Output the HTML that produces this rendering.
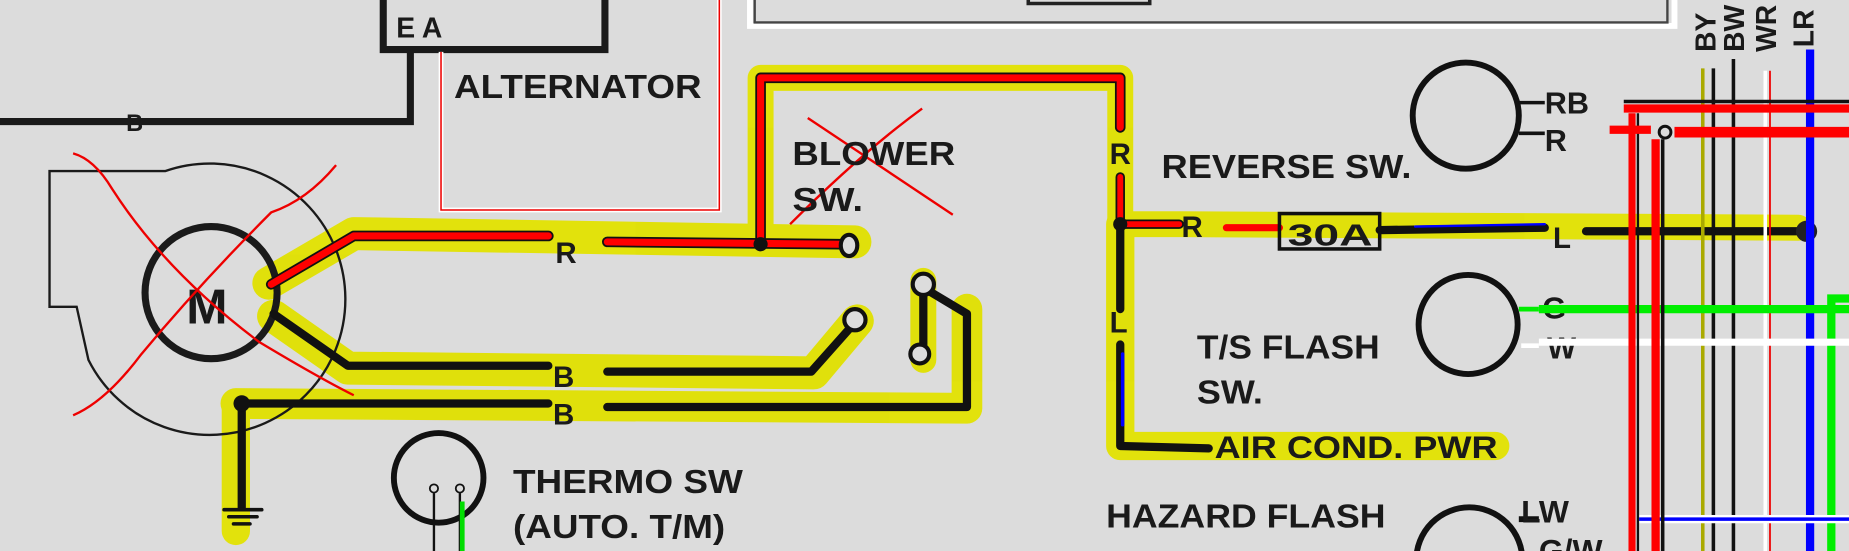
<!DOCTYPE html>
<html><head><meta charset="utf-8"><style>
html,body{margin:0;padding:0;background:#dcdcdc;width:1849px;height:551px;overflow:hidden;}
svg{display:block;}
text{font-family:"Liberation Sans",Arial,sans-serif;font-weight:bold;fill:#1a1a1a;}
</style></head><body>
<svg width="1849" height="551" viewBox="0 0 1568 467" preserveAspectRatio="none" xmlns="http://www.w3.org/2000/svg">
<rect width="1568" height="467" fill="#dcdcdc"/>
<!-- top box -->
<path d="M636 0 V22 H1420 V0" fill="none" stroke="#fff" stroke-width="5"/>
<path d="M640 0 V19 H1414 V0" fill="none" stroke="#444" stroke-width="2"/>
<path d="M872 0 V3 H975 V0" fill="none" stroke="#222" stroke-width="3"/>
<!-- yellow highlights -->
<g fill="none" stroke="#e1e100" stroke-linecap="round" stroke-linejoin="round" opacity="0.95">
<path d="M228 240 L300 198 L725 205" stroke-width="28"/>
<path d="M232 268 L295 312 L690 316 L727 272" stroke-width="28"/>
<path d="M200 342 L820 346 L820 262" stroke-width="26"/>
<path d="M783 238 L783 305" stroke-width="22"/>
<path d="M200 342 L200 450" stroke-width="24"/>
<path d="M645 205 L645 66 L950 66 L950 190 L1000 190 L1525 193" stroke-width="22"/>
<path d="M950 190 L950 378 L1268 378" stroke-width="24"/>
</g>
<!-- alternator -->
<path d="M325 0 V42 H513 V0" fill="none" stroke="#1a1a1a" stroke-width="6"/>
<text x="336" y="32" font-size="24" font-weight="normal">E A</text>
<path d="M348 42 V103 H0" fill="none" stroke="#1a1a1a" stroke-width="6"/>
<text x="107" y="111" font-size="20">B</text>
<path d="M374 44 V178 H610 V0" fill="none" stroke="#fff" stroke-width="4"/>
<path d="M374 44 V178 H610 V0" fill="none" stroke="#e00" stroke-width="1.3"/>
<text x="385" y="83" font-size="28" textLength="210" lengthAdjust="spacingAndGlyphs">ALTERNATOR</text>
<!-- blower housing -->
<path d="M42 225 L42 145 L140 145 A115 115 0 1 1 75 305 L65 260 L42 260 Z" fill="none" stroke="#1a1a1a" stroke-width="2"/>
<circle cx="179" cy="248" r="56" fill="none" stroke="#1a1a1a" stroke-width="6"/>
<text x="158" y="274" font-size="42" font-weight="normal">M</text>
<!-- wires left -->
<g fill="none" stroke-linecap="round" stroke-linejoin="round">
<path d="M230 241 L300 200 L465 200" stroke="#111" stroke-width="9"/>
<path d="M230 241 L300 200 L465 200" stroke="#f00" stroke-width="6"/>
<path d="M515 205 L712 207" stroke="#111" stroke-width="9"/>
<path d="M515 205 L712 207" stroke="#f00" stroke-width="6"/>
<path d="M232 266 L295 310 L465 310" stroke="#111" stroke-width="7"/>
<path d="M515 315 L688 315 L720 279" stroke="#111" stroke-width="7"/>
<path d="M465 342 L205 342 L205 430" stroke="#111" stroke-width="7"/>
<path d="M515 345 L820 345 L820 266 L790 248" stroke="#111" stroke-width="7"/>
<path d="M783 250 L783 292" stroke="#111" stroke-width="7"/>
<path d="M190 432 H222 M194 438 H218 M198 444 H212" stroke="#111" stroke-width="3"/>
<path d="M645 205 L645 66 L950 66 L950 108" stroke="#111" stroke-width="9"/>
<path d="M645 205 L645 66 L950 66 L950 108" stroke="#f00" stroke-width="6"/>
<path d="M950 150 L950 190 L1000 190" stroke="#111" stroke-width="8"/>
<path d="M950 150 L950 190 L1000 190" stroke="#f00" stroke-width="5"/>
<path d="M1040 193 L1085 193" stroke="#f00" stroke-width="6"/>
<path d="M1170 195 L1310 193" stroke="#111" stroke-width="7"/>
<path d="M1200 192 L1310 190" stroke="#00f" stroke-width="2"/>
<path d="M1345 196 L1532 196" stroke="#111" stroke-width="7"/>
<path d="M950 190 L950 262" stroke="#111" stroke-width="7"/>
<path d="M950 292 L950 378 L1025 380" stroke="#111" stroke-width="7"/>
<path d="M952 300 L952 360" stroke="#00f" stroke-width="3"/>
</g>
<circle cx="645" cy="207" r="6" fill="#111"/>
<circle cx="205" cy="342" r="7" fill="#111"/>
<circle cx="950" cy="190" r="6" fill="#111"/>
<circle cx="1532" cy="196" r="9" fill="#222"/>
<g fill="#dcdcdc" stroke="#111" stroke-width="3.5">
<ellipse cx="720" cy="208" rx="7" ry="9"/>
<circle cx="725" cy="271" r="9"/>
<circle cx="783" cy="241" r="9"/>
<circle cx="780" cy="300" r="8"/>
</g>
<rect x="1085" y="181" width="85" height="30" fill="none" stroke="#111" stroke-width="3"/>
<text x="1092" y="208" font-size="26" textLength="72" lengthAdjust="spacingAndGlyphs">30A</text>
<text x="471" y="223" font-size="25">R</text>
<text x="469" y="328" font-size="25">B</text>
<text x="469" y="360" font-size="25">B</text>
<text x="941" y="139" font-size="25">R</text>
<text x="1002" y="201" font-size="25">R</text>
<text x="941" y="282" font-size="25">L</text>
<text x="1317" y="210" font-size="25">L</text>
<!-- red X marks -->
<g fill="none" stroke="#e00" stroke-width="2">
<path d="M62 130 Q80 135 95 160 Q140 230 220 290 Q270 320 300 335"/>
<path d="M285 140 Q260 170 230 180 Q170 240 120 300 Q90 340 62 352"/>
<path d="M685 100 L808 182"/>
<path d="M782 92 Q730 130 670 190"/>
</g>
<text x="672" y="140" font-size="28" textLength="138" lengthAdjust="spacingAndGlyphs">BLOWER</text>
<text x="672" y="179" font-size="28" textLength="60" lengthAdjust="spacingAndGlyphs">SW.</text>
<!-- thermo -->
<circle cx="372" cy="405" r="38" fill="none" stroke="#111" stroke-width="5"/>
<path d="M368 418 V467 M390 418 V467" stroke="#111" stroke-width="2"/>
<path d="M392 425 V467" stroke="#0d0" stroke-width="4"/>
<circle cx="368" cy="414" r="3.5" fill="#dcdcdc" stroke="#111" stroke-width="1.5"/>
<circle cx="390" cy="414" r="3.5" fill="#dcdcdc" stroke="#111" stroke-width="1.5"/>
<text x="435" y="418" font-size="28" textLength="195" lengthAdjust="spacingAndGlyphs">THERMO SW</text>
<text x="435" y="456" font-size="28" textLength="180" lengthAdjust="spacingAndGlyphs">(AUTO. T/M)</text>
<!-- switches right -->
<text x="985" y="151" font-size="28" textLength="212" lengthAdjust="spacingAndGlyphs">REVERSE SW.</text>
<circle cx="1243" cy="98" r="45" fill="none" stroke="#111" stroke-width="5"/>
<path d="M1288 87 H1310 M1288 113 H1310" stroke="#111" stroke-width="3"/>
<text x="1310" y="96" font-size="26">RB</text>
<text x="1310" y="128" font-size="26">R</text>
<text x="1015" y="304" font-size="28" textLength="155" lengthAdjust="spacingAndGlyphs">T/S FLASH</text>
<text x="1015" y="342" font-size="28" textLength="56" lengthAdjust="spacingAndGlyphs">SW.</text>
<circle cx="1245" cy="275" r="42" fill="none" stroke="#111" stroke-width="5"/>
<path d="M1288 262 H1305" stroke="#0e0" stroke-width="4"/>
<path d="M1290 293 H1305" stroke="#fff" stroke-width="4"/>
<text x="1308" y="270" font-size="26">G</text>
<text x="1312" y="304" font-size="26">W</text>
<text x="1030" y="388" font-size="27" textLength="240" lengthAdjust="spacingAndGlyphs">AIR COND. PWR</text>
<text x="938" y="447" font-size="28" textLength="237" lengthAdjust="spacingAndGlyphs">HAZARD FLASH</text>
<circle cx="1246" cy="475" r="45" fill="none" stroke="#111" stroke-width="5"/>
<path d="M1288 440 H1305" stroke="#111" stroke-width="5"/>
<text x="1290" y="443" font-size="27">LW</text>
<text x="1305" y="476" font-size="27">G/W</text>
<!-- harness -->
<g fill="none">
<path d="M1453 58 V467" stroke="#111" stroke-width="3"/>
<path d="M1444 58 V467" stroke="#aa0" stroke-width="3"/>
<path d="M1470 50 V467" stroke="#111" stroke-width="3"/>
<path d="M1497 60 V467" stroke="#fff" stroke-width="3"/>
<path d="M1501 60 V467" stroke="#e00" stroke-width="1.5"/>
<path d="M1535 42 V467" stroke="#00f" stroke-width="7"/>
<path d="M1553 467 V253 H1568" stroke="#0e0" stroke-width="7"/>
<path d="M1305 262 H1568" stroke="#0e0" stroke-width="7"/>
<path d="M1305 290 H1568" stroke="#fff" stroke-width="6"/>
<path d="M1390 440 H1568" stroke="#fff" stroke-width="7"/>
<path d="M1390 440 H1568" stroke="#00f" stroke-width="3"/>
<path d="M1377 86 H1568" stroke="#111" stroke-width="3"/>
<path d="M1377 92 H1568" stroke="#f00" stroke-width="7"/>
<path d="M1384 96 V467" stroke="#f00" stroke-width="6"/>
<path d="M1389 96 V467" stroke="#111" stroke-width="2"/>
<path d="M1365 110 H1400" stroke="#f00" stroke-width="7"/>
<path d="M1420 112 H1568" stroke="#f00" stroke-width="9"/>
<path d="M1404 118 V467" stroke="#f00" stroke-width="7"/>
<path d="M1410 118 V467" stroke="#111" stroke-width="3"/>
</g>
<circle cx="1412" cy="112" r="5" fill="#dcdcdc" stroke="#111" stroke-width="2.5"/>
<g font-size="24">
<text transform="translate(1455,44) rotate(-90)">BY</text>
<text transform="translate(1479,44) rotate(-90)">BW</text>
<text transform="translate(1506,44) rotate(-90)">WR</text>
<text transform="translate(1538,40) rotate(-90)">LR</text>
</g>
</svg>
</body></html>
